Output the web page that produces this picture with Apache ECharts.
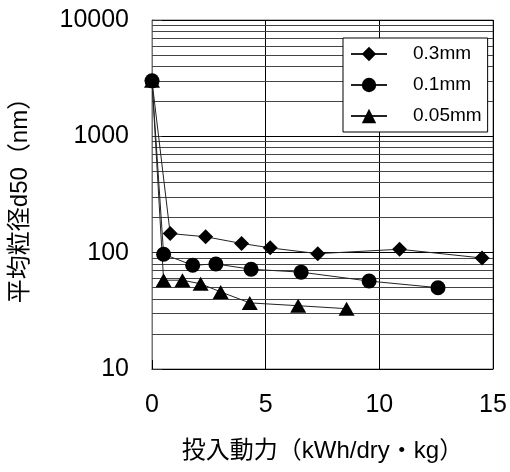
<!DOCTYPE html>
<html>
<head>
<meta charset="utf-8">
<script src="https://cdn.jsdelivr.net/npm/echarts@6/dist/echarts.min.js"></script>
<style>html,body{margin:0;padding:0;background:#fff;}#c{width:510px;height:472px;}</style>
</head>
<body>
<div id="c"></div>
<script>
const seriesNames = ['0.3mm', '0.1mm', '0.05mm'];
const x03 = [0, 0.8, 2.36, 3.94, 5.2, 7.29, 10.89, 14.52];
const y03 = [3000, 146, 137, 120, 110, 98, 107, 90];
const x01 = [0, 0.51, 1.79, 2.81, 4.36, 6.56, 9.55, 12.58];
const y01 = [3000, 97, 78, 80, 72, 68, 57, 50];
const x005 = [0, 0.51, 1.34, 2.14, 3.02, 4.30, 6.43, 8.56];
const y005 = [3000, 58, 58, 54, 46, 37, 35, 33];
const minorGrid = [20,30,40,50,60,70,80,90,200,300,400,500,600,700,800,900,2000,3000,4000,5000,6000,7000,8000,9000];

const font = "'Liberation Sans', 'Noto Sans CJK JP', sans-serif";
const zip = (xs, ys) => xs.map((x, i) => [x, ys[i]]);

const chart = echarts.init(document.getElementById('c'), null, {renderer: 'canvas'});
const lineStyle = {color: '#222', width: 1};
chart.setOption({
  animation: false,
  backgroundColor: '#fff',
  grid: {left: 150, right: 17, top: 20, bottom: 103, show: true, borderColor: '#777', borderWidth: 1, containLabel: false},
  legend: {
    orient: 'vertical', left: 343, top: 38,
    padding: [6, 6, 6, 7],
    backgroundColor: '#fff', borderColor: '#000', borderWidth: 1,
    itemWidth: 36, itemHeight: 18, itemGap: 11,
    textStyle: {fontFamily: font, fontSize: 19, color: '#000', padding: [0, 0, 0, 21], lineHeight: 20},
    data: seriesNames
  },
  xAxis: {
    type: 'value', min: 0, max: 15, interval: 5,
    name: '投入動力（kWh/dry・kg）', nameLocation: 'middle', nameGap: 70,
    nameTextStyle: {fontFamily: font, fontSize: 24, color: '#000'},
    axisLine: {show: true, lineStyle: {color: '#000', width: 1}},
    axisTick: {show: true, inside: true, length: 9, lineStyle: {color: '#000'}},
    axisLabel: {fontFamily: font, fontSize: 25, color: '#000', margin: 24},
    splitLine: {show: true, lineStyle: {color: '#000', width: 1}}
  },
  yAxis: {
    type: 'log', logBase: 10, min: 10, max: 10000,
    name: '平均粒径d50（nm）', nameLocation: 'middle', nameGap: 120, nameRotate: 90,
    nameTextStyle: {fontFamily: font, fontSize: 24, color: '#000'},
    axisLine: {show: true, lineStyle: {color: '#777', width: 1}},
    axisTick: {show: true, inside: true, length: 10, lineStyle: {color: '#333'}},
    axisLabel: {fontFamily: font, fontSize: 25, color: '#000', margin: 23, formatter: v => String(v)},
    splitLine: {show: true, lineStyle: {color: '#000', width: 1}}
  },
  series: [
    {
      name: seriesNames[0], type: 'line', data: zip(x03, y03), clip: false,
      symbol: 'diamond', symbolSize: 15,
      itemStyle: {color: '#000'}, lineStyle: lineStyle, z: 5,
      markLine: {
        silent: true, symbol: 'none', label: {show: false},
        lineStyle: {color: '#444', width: 1, type: 'solid'},
        data: minorGrid.map(v => ({yAxis: v})), z: 1
      }
    },
    {
      name: seriesNames[1], type: 'line', data: zip(x01, y01), clip: false,
      symbol: 'circle', symbolSize: 15,
      itemStyle: {color: '#000'}, lineStyle: lineStyle, z: 5
    },
    {
      name: seriesNames[2], type: 'line', data: zip(x005, y005), clip: false,
      symbol: 'triangle', symbolSize: [16, 14],
      itemStyle: {color: '#000'}, lineStyle: lineStyle, z: 5
    }
  ]
});
</script>
</body>
</html>
